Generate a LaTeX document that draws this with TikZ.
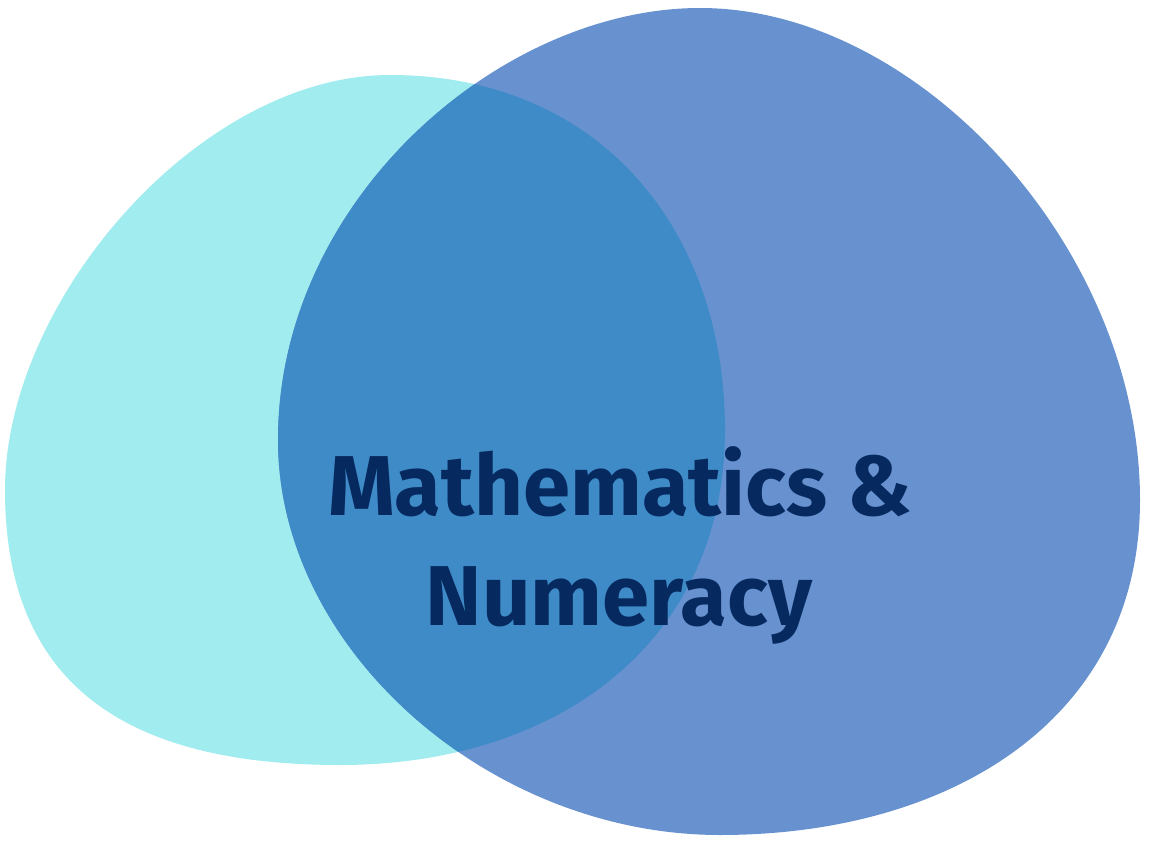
\documentclass[tikz,border=0pt]{standalone}
\usepackage{fontspec}
\setmainfont{Fira Sans}
\definecolor{cyanblob}{HTML}{A0ECEE}
\definecolor{blueblob}{HTML}{6892CF}
\definecolor{overlap}{HTML}{3F8BC8}
\definecolor{navytext}{HTML}{062A5F}
\tikzset{
  label text/.style={text=navytext, font=\fontsize{85}{100}\selectfont\bfseries, inner sep=0pt, anchor=base}
}
\def\cyanpath{(390,75) .. controls (600,75) and (725,230) .. (725,430)
  .. controls (725,640) and (560,765) .. (340,765)
  .. controls (120,765) and (5,680) .. (5,490)
  .. controls (5,300) and (200,75) .. (390,75) -- cycle}
\def\bluepath{(700,8) .. controls (920,8) and (1140,250) .. (1140,500)
  .. controls (1140,720) and (950,835) .. (720,835)
  .. controls (490,835) and (278,650) .. (278,440)
  .. controls (278,200) and (500,8) .. (700,8) -- cycle}
\begin{document}
\begin{tikzpicture}[x=1pt,y=-1pt]
\useasboundingbox (0,0) rectangle (1154,843);
\fill[cyanblob] \cyanpath;
\fill[blueblob] \bluepath;
\begin{scope}
  \clip \bluepath;
  \fill[overlap] \cyanpath;
\end{scope}
\node[label text] (l1) at (620,515) {Mathematics \&};
\node[label text] (l2) at (619,625) {Numeracy};
\end{tikzpicture}
\end{document}
